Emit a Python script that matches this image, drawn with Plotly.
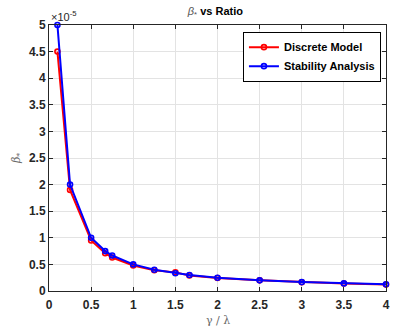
import plotly.graph_objects as go

ratio = [0.1, 0.25, 0.5, 0.667, 0.75, 1.0, 1.25, 1.5, 1.667, 2.0, 2.5, 3.0, 3.5, 4.0]
discrete = [4.5, 1.9, 0.95, 0.71, 0.63, 0.48, 0.39, 0.35, 0.29, 0.245, 0.2, 0.165, 0.14, 0.12]
stability = [5.0, 2.0, 1.0, 0.75, 0.667, 0.5, 0.4, 0.333, 0.3, 0.25, 0.2, 0.167, 0.143, 0.125]
x_ticks = [0, 0.5, 1, 1.5, 2, 2.5, 3, 3.5, 4]
x_tick_text = ["0", "0.5", "1", "1.5", "2", "2.5", "3", "3.5", "4"]
y_ticks = [0, 0.5, 1, 1.5, 2, 2.5, 3, 3.5, 4, 4.5, 5]
y_tick_text = ["0", "0.5", "1", "1.5", "2", "2.5", "3", "3.5", "4", "4.5", "5"]

fig = go.Figure()
fig.add_trace(go.Scatter(
    x=ratio, y=discrete, mode="lines+markers", name="Discrete Model",
    line=dict(color="#ff0000", width=2), cliponaxis=False,
    marker=dict(symbol="circle-open", size=5, color="#ff0000", line=dict(width=1.6)),
))
fig.add_trace(go.Scatter(
    x=ratio, y=stability, mode="lines+markers", name="Stability Analysis",
    line=dict(color="#0000ff", width=2), cliponaxis=False,
    marker=dict(symbol="circle-open", size=5, color="#0000ff", line=dict(width=1.6)),
))

axis_font = dict(family="Liberation Sans, Arial, sans-serif", size=12, color="#262626")
fig.update_layout(
    width=393, height=328,
    margin=dict(l=49, r=7, t=25, b=37, autoexpand=False),
    paper_bgcolor="white", plot_bgcolor="white",
    title=dict(text="<span style='color:#555555'><i>β</i><sub>*</sub></span> <b>vs Ratio</b>",
               xref="container", x=0.548, xanchor="center",
               yref="container", y=0.966, yanchor="middle",
               font=dict(family="Liberation Sans, Arial, sans-serif", size=11, color="#000000")),
    xaxis=dict(range=[0, 4], tickvals=x_ticks, ticktext=["<b>%s</b>" % t for t in x_tick_text],
               showgrid=True, gridcolor="#e3e3e3", gridwidth=1,
               showline=True, linecolor="#262626", linewidth=1, mirror="allticks",
               ticks="inside", ticklen=4, tickcolor="#262626", tickfont=axis_font,
               ticklabelstandoff=3,
               zeroline=False, automargin=False, ticklabeloverflow="allow"),
    yaxis=dict(range=[0, 5], tickvals=y_ticks, ticktext=["<b>%s</b>" % t for t in y_tick_text],
               showgrid=True, gridcolor="#e3e3e3", gridwidth=1,
               showline=True, linecolor="#262626", linewidth=1, mirror="allticks",
               ticks="inside", ticklen=4, tickcolor="#262626", tickfont=axis_font,
               zeroline=False, automargin=False, ticklabeloverflow="allow"),
    legend=dict(x=0.985, y=0.975, xanchor="right", yanchor="top",
                bgcolor="white", bordercolor="#000000", borderwidth=1,
                font=dict(family="Liberation Sans, Arial, sans-serif", size=11, color="#000000"),
                itemwidth=30, tracegroupgap=0),
    showlegend=True,
)
fig.for_each_trace(lambda t: t.update(name="<b>%s</b>" % t.name))
fig.add_annotation(text="×10<sup>-5</sup>", xref="paper", yref="paper", x=0, y=1.0,
                   xanchor="left", yanchor="bottom", showarrow=False,
                   font=dict(family="Liberation Sans, Arial, sans-serif", size=11, color="#262626"))
fig.add_annotation(text="γ / λ", xref="paper", yref="paper", x=0.5, y=-0.112,
                   xanchor="center", yanchor="middle", showarrow=False,
                   font=dict(family="DejaVu Serif, serif", size=11, color="#666666"))
fig.add_annotation(text="<i>β</i><sub>*</sub>", xref="paper", yref="paper", x=-0.095, y=0.5,
                   xanchor="center", yanchor="middle", showarrow=False, textangle=-90,
                   font=dict(family="DejaVu Serif, serif", size=11, color="#666666"))

fig.write_html("out.html", config={"displayModeBar": False},
               post_script="document.body.style.margin='0';document.body.style.overflow='hidden';")
